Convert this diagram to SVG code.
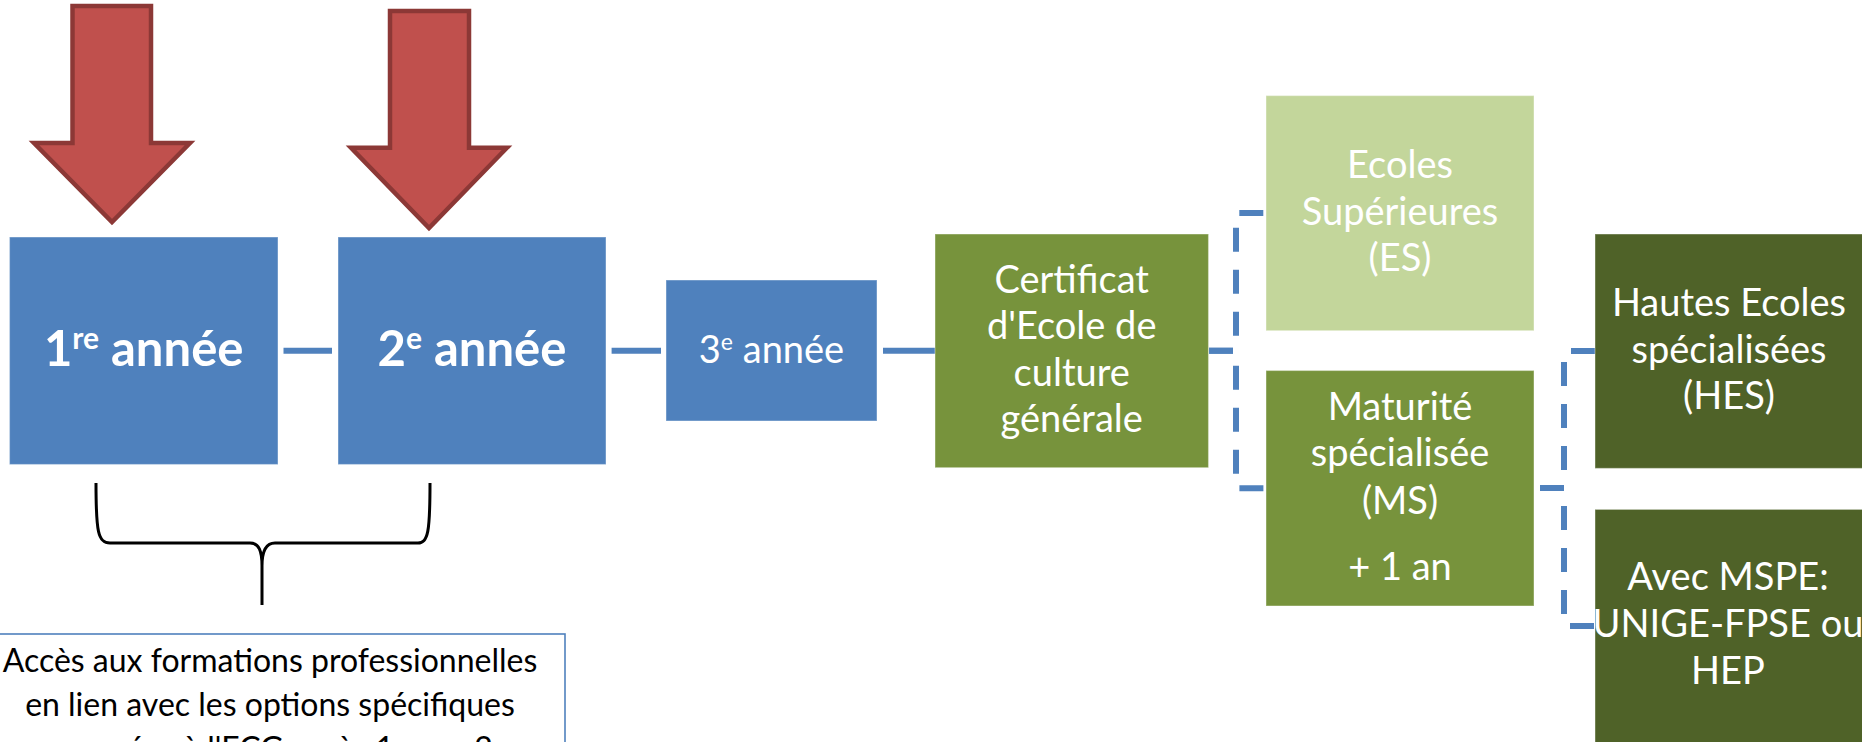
<svg xmlns="http://www.w3.org/2000/svg" width="1862" height="742" viewBox="0 0 1862 742">
  <style>
    .lbl { font-family: Lato, "Open Sans", "Liberation Sans", sans-serif; fill: #ffffff; text-anchor: middle; }
    .big { font-size: 49px; font-weight: bold; }
    .mid { font-size: 38px; }
    .body { font-family: Lato, "Open Sans", "Liberation Sans", sans-serif; font-size: 32px; fill: #000000; text-anchor: middle; }
    .blue { fill: #4F81BD; }
    .green { fill: #77933C; }
    .light { fill: #C3D69B; }
    .dark { fill: #4F6228; }
    .box { stroke: #ffffff; stroke-opacity: 0.35; stroke-width: 1.2; }
    .arrow { fill: #C0504D; stroke: #8C3836; stroke-width: 4.5; stroke-linejoin: miter; }
    .conn { fill: none; stroke: #4F81BD; stroke-width: 6; }
    .dash { stroke-dasharray: 24 18; }
    .brace { fill: none; stroke: #000000; stroke-width: 3; stroke-linejoin: round; }
  </style>

  <g id="connectors">
    <line class="conn" x1="283.5" y1="350.7" x2="332" y2="350.7"/>
    <line class="conn" x1="611.6" y1="350.7" x2="661" y2="350.7"/>
    <line class="conn" x1="883" y1="350.7" x2="935" y2="350.7"/>
    <path class="conn dash" d="M1209,350.7 H1236 V213 H1264"/>
    <path class="conn dash" d="M1209,350.7 H1236 V488.3 H1264"/>
    <path class="conn dash" d="M1540,488 H1564 V351 H1595"/>
    <path class="conn dash" d="M1540,488 H1564 V626 H1595"/>
    <path class="brace" d="M96,483 C96,532 98,543 110,543 L250,543 C259,543 262,551 262,566 L262,605 M262,566 C262,551 266,543 275,543 L418,543 C428,543 430,532 430,483"/>
  </g>

  <g id="arrow1">
    <path class="arrow" d="M72.5,6 H151 V143 H190 L112,222 L34,143 H72.5 Z"/>
  </g>
  <g id="arrow2">
    <path class="arrow" d="M390,11 H469 V147.7 H507 L429,228 L351,147.7 H390 Z"/>
  </g>

  <g id="annee1">
    <rect class="blue box" x="9.5" y="237" width="268.5" height="227.5"/>
    <text class="lbl big" x="143.7" y="366">1<tspan font-size="30" dy="-17">re</tspan><tspan dy="17"> année</tspan></text>
  </g>
  <g id="annee2">
    <rect class="blue box" x="338" y="237" width="268" height="227.5"/>
    <text class="lbl big" x="472" y="366">2<tspan font-size="30" dy="-17">e</tspan><tspan dy="17"> année</tspan></text>
  </g>
  <g id="annee3">
    <rect class="blue box" x="666" y="280" width="211" height="141"/>
    <text class="lbl mid" x="771.5" y="362.7">3<tspan font-size="23" dy="-13">e</tspan><tspan dy="13"> année</tspan></text>
  </g>

  <g id="certificat">
    <rect class="green box" x="935" y="234" width="273.5" height="233.7"/>
    <text class="lbl mid" x="1071.7" y="292.5">Certificat</text>
    <text class="lbl mid" x="1071.7" y="339">d'Ecole de</text>
    <text class="lbl mid" x="1071.7" y="385.5">culture</text>
    <text class="lbl mid" x="1071.7" y="432">générale</text>
  </g>

  <g id="es">
    <rect class="light box" x="1266" y="95.6" width="268" height="235.1"/>
    <text class="lbl mid" x="1400" y="178">Ecoles</text>
    <text class="lbl mid" x="1400" y="224.5">Supérieures</text>
    <text class="lbl mid" x="1400" y="271">(ES)</text>
  </g>

  <g id="ms">
    <rect class="green box" x="1266" y="370.5" width="268" height="235.5"/>
    <text class="lbl mid" x="1400" y="420">Maturité</text>
    <text class="lbl mid" x="1400" y="466.3">spécialisée</text>
    <text class="lbl mid" x="1400" y="514">(MS)</text>
    <text class="lbl mid" x="1400" y="579.5">+ 1 an</text>
  </g>

  <g id="hes">
    <rect class="dark box" x="1595" y="234" width="268" height="234.4"/>
    <text class="lbl mid" x="1729" y="316.4">Hautes Ecoles</text>
    <text class="lbl mid" x="1729" y="362.8">spécialisées</text>
    <text class="lbl mid" x="1729" y="409.4">(HES)</text>
  </g>

  <g id="mspe">
    <rect class="dark box" x="1595" y="509.4" width="268" height="240"/>
    <text class="lbl mid" x="1728" y="590.4">Avec MSPE:</text>
    <text class="lbl mid" x="1728" y="637">UNIGE-FPSE ou</text>
    <text class="lbl mid" x="1728" y="683.5">HEP</text>
  </g>

  <g id="acces">
    <rect x="-30" y="634" width="595" height="160" fill="#ffffff" stroke="#4F81BD" stroke-width="1.6"/>
    <text class="body" x="270" y="672">Accès aux formations professionnelles</text>
    <text class="body" x="270" y="716">en lien avec les options spécifiques</text>
    <text class="body" x="270" y="760">proposées à l'ECG après 1re ou 2e</text>
  </g>
</svg>
